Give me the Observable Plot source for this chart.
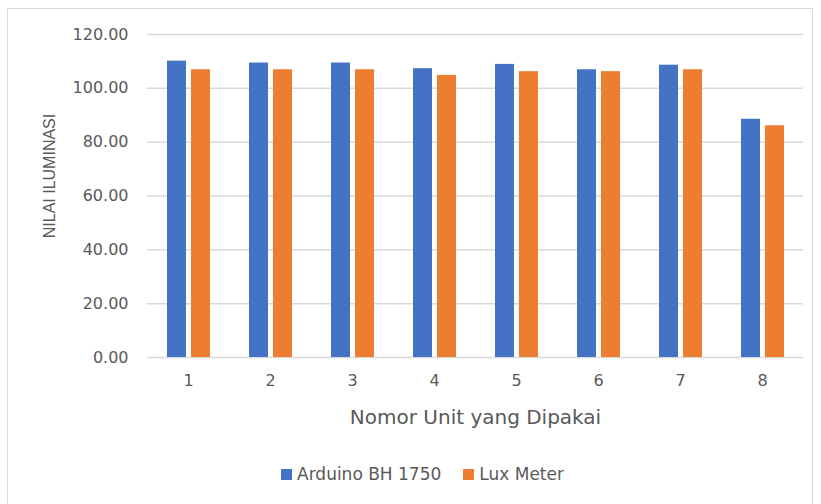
<!DOCTYPE html>
<html><head><meta charset="utf-8">
<script src="https://cdn.jsdelivr.net/npm/d3@7"></script>
<script src="https://cdn.jsdelivr.net/npm/@observablehq/plot@0.6"></script>
<style>
body{margin:0;background:#fff;font-family:"DejaVu Sans",sans-serif;}
#wrap{position:relative;width:821px;height:504px;overflow:hidden;}
#frame{position:absolute;left:7px;top:8px;width:806px;height:510px;border:1px solid #d9d9d9;box-sizing:border-box;}
#ylab{position:absolute;left:50px;top:176px;transform:translate(-50%,-50%) rotate(-90deg);font-family:"Liberation Sans",Arial,sans-serif;font-size:16px;color:#595959;white-space:nowrap;}
#legend{position:absolute;left:0;top:464px;width:821px;display:flex;justify-content:center;gap:22px;font-size:17px;color:#595959;padding-left:24px;box-sizing:border-box;}
#legend span.sw{display:inline-block;width:11px;height:11px;margin-right:5px;vertical-align:0px;}
#chart{position:absolute;left:0;top:0;}
</style></head>
<body><div id="wrap"><div id="frame"></div><div id="chart"></div><div id="ylab">NILAI ILUMINASI</div><div id="legend"></div></div>
<script>
const units = ["1","2","3","4","5","6","7","8"];
const seriesNames = ["Arduino BH 1750","Lux Meter"];
const arduino = [110.1,109.4,109.4,107.3,108.9,106.9,108.6,88.5];
const luxMeter = [106.9,106.9,106.9,104.8,106.2,106.2,106.9,86.1];
const yTicks = [0,20,40,60,80,100,120];
const colors = ["#4472C4","#ED7D31"];

const data = [];
units.forEach((u,i)=>{
  data.push({unit:u, series:seriesNames[0], value:arduino[i]});
  data.push({unit:u, series:seriesNames[1], value:luxMeter[i]});
});

const plot = Plot.plot({
  width:821, height:450,
  marginLeft:147, marginRight:18, marginTop:34, marginBottom:93,
  style:{fontFamily:'"DejaVu Sans",sans-serif', color:"#595959", background:"transparent"},
  fx:{domain:units, padding:0, label:"Nomor Unit yang Dipakai"},
  x:{domain:seriesNames, paddingInner:0.21, paddingOuter:0.81, axis:null},
  y:{domain:[0,120], ticks:yTicks},
  color:{domain:seriesNames, range:colors},
  marks:[
    Plot.gridY(yTicks,{stroke:"#d9d9d9", strokeOpacity:1, strokeWidth:1.5}),
    Plot.axisY(yTicks,{tickSize:0, tickPadding:19, tickFormat:d3.format(".2f"), fontSize:16, label:null}),
    Plot.axisFx({anchor:"bottom", tickSize:0, tickPadding:17, fontSize:16, label:"Nomor Unit yang Dipakai", labelAnchor:"center", labelOffset:66, labelArrow:"none"}),
    Plot.barY(data,{fx:"unit", x:"series", y:"value", fill:"series", inset:0})
  ]
});
document.getElementById("chart").appendChild(plot);
plot.querySelectorAll('g[aria-label="fx-axis label"] text').forEach(t=>t.setAttribute("font-size","20"));

const lg = document.getElementById("legend");
seriesNames.forEach((s,i)=>{
  const d = document.createElement("div");
  d.innerHTML = `<span class="sw" style="background:${colors[i]}"></span>${s}`;
  lg.appendChild(d);
});
</script></body></html>
